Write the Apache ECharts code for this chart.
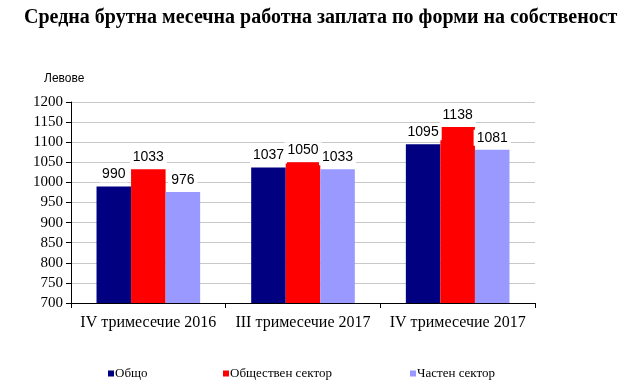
<!DOCTYPE html>
<html><head><meta charset="utf-8">
<script src="https://cdn.jsdelivr.net/npm/echarts@6/dist/echarts.min.js"></script>
<style>html,body{margin:0;padding:0;background:#fff}#c{width:630px;height:387px}</style>
</head><body><div id="c"></div>
<script>
const categories = ['IV тримесечие 2016', 'III тримесечие 2017', 'IV тримесечие 2017'];
const seriesNames = ['Общо', 'Обществен сектор', 'Частен сектор'];
const total = [990, 1037, 1095];
const publicSector = [1033, 1050, 1138];
const privateSector = [976, 1033, 1081];
const colors = ['#000080', '#FF0000', '#9999FF'];

const chart = echarts.init(document.getElementById('c'));
const serif = '"Liberation Serif", "Times New Roman", serif';
const sans = '"Liberation Sans", Arial, sans-serif';
const dataSets = [total, publicSector, privateSector];
const legendLeft = [103, 218, 405];
chart.setOption({
  animation: false,
  title: [
    {text: 'Средна брутна месечна работна заплата по форми на собственост', left: 19, top: 3,
     textStyle: {fontFamily: serif, fontSize: 20, fontWeight: 'bold', color: '#000'}},
    {text: 'Левове', left: 39, top: 68, textStyle: {fontFamily: sans, fontSize: 12, fontWeight: 'normal', color: '#000'}}
  ],
  legend: seriesNames.map((n, i) => ({
    data: [n], left: legendLeft[i], top: 362, itemWidth: 6, itemHeight: 6, itemGap: 2,
    icon: 'rect', textStyle: {fontFamily: serif, fontSize: 13, color: '#000', padding: [0,0,0,-4]}
  })),
  grid: {left: 71, right: 95, top: 102, bottom: 84},
  xAxis: {
    type: 'category', data: categories,
    axisLine: {lineStyle: {color: '#000', width: 1}},
    axisTick: {show: true, length: 5, lineStyle: {color: '#000'}},
    axisLabel: {fontFamily: serif, fontSize: 16, color: '#000', margin: 12, interval: 0}
  },
  yAxis: {
    type: 'value', min: 700, max: 1200, interval: 50,
    axisLine: {show: true, lineStyle: {color: '#000'}},
    axisTick: {show: true, length: 5, lineStyle: {color: '#000'}},
    axisLabel: {fontFamily: serif, fontSize: 15, color: '#000', margin: 8, formatter: v => String(v)},
    splitLine: {lineStyle: {color: '#c8c8c8', width: 1}}
  },
  series: seriesNames.map((n, i) => ({
    name: n, type: 'bar', data: dataSets[i], barGap: '0%', barCategoryGap: '33%',
    itemStyle: {color: colors[i]},
    label: {show: true, position: 'top', distance: 4, fontFamily: sans, fontSize: 14, color: '#000',
            backgroundColor: '#fff', padding: [1, 3]}
  }))
});
</script></body></html>
